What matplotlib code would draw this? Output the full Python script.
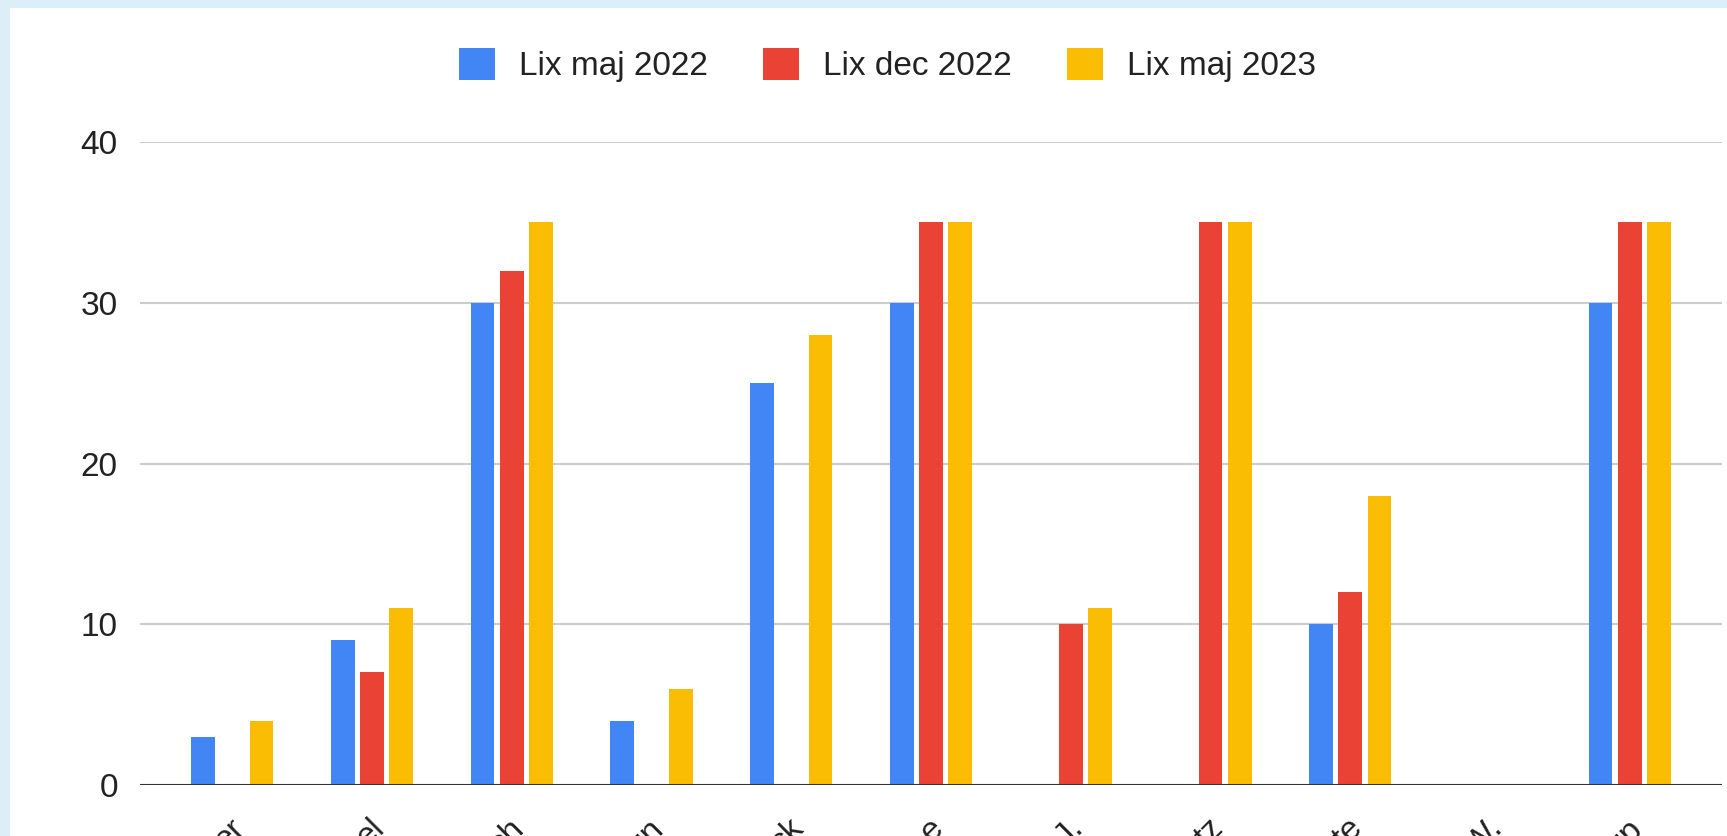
import numpy as np
import matplotlib
matplotlib.use("Agg")
import matplotlib.pyplot as plt
import matplotlib.transforms as mtransforms
from matplotlib.patches import Rectangle

# only the ends of the category names are visible in the source picture
categories = ["er", "el", "ch", "un", "ck", "e", "J.", "tz", "te", "W.", "up"]
series_names = ["Lix maj 2022", "Lix dec 2022", "Lix maj 2023"]
lix_maj_2022 = [3, 9, 30, 4, 25, 30, np.nan, np.nan, 10, np.nan, 30]
lix_dec_2022 = [np.nan, 7, 32, np.nan, np.nan, 35, 10, 35, 12, np.nan, 35]
lix_maj_2023 = [4, 11, 35, 6, 28, 35, 11, 35, 18, np.nan, 35]
yticks = [0, 10, 20, 30, 40]

colors = ["#4285F4", "#EA4335", "#FBBC04"]

plt.rcParams['font.family'] = ['Liberation Sans', 'DejaVu Sans']

fig = plt.figure(figsize=(17.27, 8.36), dpi=100)
fig.patch.set_facecolor("#DCEEF8")
fig.patches.append(Rectangle((10 / 1727, 0), 1, 1 - 8 / 836, transform=fig.transFigure,
                             facecolor="white", edgecolor="none", zorder=-5))

ax = fig.add_axes([140 / 1727, 51 / 836, 1582 / 1727, 643 / 836])
ax.set_facecolor("none")

x = np.arange(len(categories))
offset = 0.21
width = 0.17
for i, (name, vals) in enumerate(zip(series_names, [lix_maj_2022, lix_dec_2022, lix_maj_2023])):
    ax.bar(x + (i - 1) * offset, vals, width, color=colors[i], label=name, zorder=3)

ax.set_xlim(-0.66, len(categories) - 1 + 0.66)
ax.set_ylim(0, 40)
ax.set_yticks(yticks)
ax.tick_params(axis='y', length=0, pad=16, labelsize=24, labelcolor="#222222")
ax.set_xticks(x)
ax.set_xticklabels(categories, rotation=45, ha='right', fontsize=24, color="#222222")
ax.tick_params(axis='x', length=0, pad=20)
# labels end a little to the right of the group centre
shift = mtransforms.ScaledTranslation(0.19, 0, fig.dpi_scale_trans)
for lab in ax.get_xticklabels():
    lab.set_transform(lab.get_transform() + shift)

ax.grid(axis='y', color="#CCCCCC", linewidth=1.5, zorder=1)
ax.axhline(0, color="#333333", linewidth=2.2, zorder=4)
for s in ax.spines.values():
    s.set_visible(False)

fig.legend(loc='center', bbox_to_anchor=(0.514, 0.922), ncol=3, frameon=False,
           fontsize=24, handlelength=1.08, handleheight=1.08, columnspacing=1.65,
           handletextpad=0.72, labelcolor="#222222")

fig.savefig("out.png", dpi=100)
